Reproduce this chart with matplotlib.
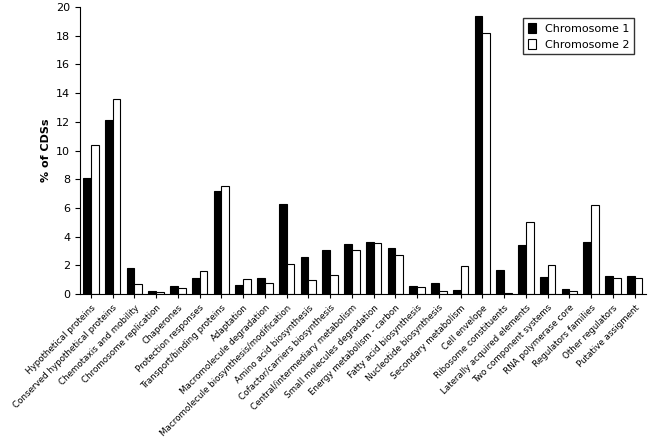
import matplotlib
matplotlib.use("Agg")
import matplotlib.pyplot as plt
import numpy as np

categories = ["Hypothetical proteins", "Conserved hypothetical proteins", "Chemotaxis and mobility",
    "Chromosome replication", "Chaperones", "Protection responses", "Transport/binding proteins",
    "Adaptation", "Macromolecule degradation", "Macromolecule biosynthesis/modification",
    "Amino acid biosynthesis", "Cofactor/carriers biosynthesis", "Central/intermediary metabolism",
    "Small molecules degradation", "Energy metabolism - carbon", "Fatty acid biosynthesis",
    "Nucleotide biosynthesis", "Secondary metabolism", "Cell envelope", "Ribosome constituents",
    "Laterally acquired elements", "Two component systems", "RNA polymerase core",
    "Regulators families", "Other regulators", "Putative assigment"]
chrom1 = [8.1, 12.1, 1.8, 0.25, 0.6, 1.1, 7.2, 0.65, 1.1, 6.3, 2.6, 3.1, 3.5, 3.65, 3.2, 0.6,
          0.75, 0.3, 19.4, 1.7, 3.4, 1.2, 0.35, 3.6, 1.25, 1.25]
chrom2 = [10.4, 13.6, 0.7, 0.15, 0.4, 1.6, 7.5, 1.05, 0.8, 2.1, 1.0, 1.3, 3.05, 3.55, 2.75, 0.5,
          0.25, 1.95, 18.2, 0.05, 5.0, 2.0, 0.25, 6.2, 1.15, 1.1]

fig = plt.figure(figsize=(6.56, 4.41), dpi=100)
ax = fig.add_axes([0.122, 0.333, 0.862, 0.651])
x = np.arange(len(categories))
w = 0.36
ax.bar(x - w/2, chrom1, w, color="black", edgecolor="black", linewidth=0.8, label="Chromosome 1")
ax.bar(x + w/2, chrom2, w, color="white", edgecolor="black", linewidth=0.8, label="Chromosome 2")
ax.set_xlim(-0.5, len(categories) - 0.5)
ax.set_ylim(0, 20)
ax.set_yticks(range(0, 21, 2))
ax.set_xticks(x)
ax.set_xticklabels(categories, rotation=45, ha="right", rotation_mode="anchor", fontsize=6.3)
ax.tick_params(axis="y", labelsize=8)
ax.tick_params(axis="x", length=3)
ax.set_ylabel("% of CDSs", fontsize=8, fontweight="bold")
for s in ["top", "right"]:
    ax.spines[s].set_visible(False)
leg = ax.legend(loc="upper right", fontsize=8, frameon=True, fancybox=False, edgecolor="black",
                bbox_to_anchor=(0.99, 0.98), handlelength=0.8, handleheight=1.0)
fig.savefig("out.png", dpi=100)
